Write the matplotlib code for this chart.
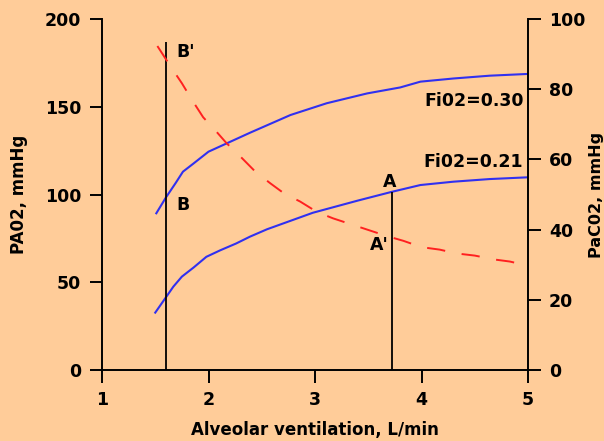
import matplotlib
matplotlib.use("Agg")
import matplotlib.pyplot as plt

# alveolar ventilation (L/min) and PAO2 (mmHg) for the two FiO2 curves
va_030 = [1.51, 1.60, 1.69, 1.76, 1.86, 2.00, 2.17, 2.39, 2.77, 3.11, 3.49, 3.80, 3.99, 4.30, 4.64, 5.00]
pao2_030 = [89.3, 98.3, 106.4, 113.0, 117.7, 124.4, 129.1, 135.2, 145.3, 152.0, 157.6, 161.0,
            164.3, 166.1, 167.7, 168.7]

va_021 = [1.50, 1.60, 1.67, 1.75, 1.86, 1.98, 2.11, 2.26, 2.39, 2.55, 2.98, 3.40, 3.72, 3.99,
          4.30, 4.64, 5.00]
pao2_021 = [32.7, 41.4, 47.5, 53.2, 58.4, 64.5, 68.2, 72.1, 76.0, 80.2, 89.6, 96.5, 101.5,
            105.4, 107.3, 108.8, 109.8]

# PaCO2 (mmHg, right axis)
va_co2 = [1.52, 1.65, 1.75, 1.85, 1.95, 2.06, 2.17, 2.30, 2.44, 2.58, 2.71, 2.86, 3.02,
          3.17, 3.33, 3.50, 3.67, 3.83, 4.00, 4.17, 4.33, 4.50, 4.68, 4.83, 5.00]
paco2 = [92.3, 86.2, 81.7, 76.7, 72.0, 68.4, 64.6, 60.8, 56.5, 53.2, 50.3, 48.0, 45.0,
         43.2, 41.6, 39.9, 38.2, 36.8, 35.0, 34.3, 33.2, 32.6, 31.5, 30.9, 29.7]

# marker lines (x, top in PAO2 units)
line_b = (1.60, 187)
line_a = (3.72, 101.5)

bg = '#FFCC99'
fnt = dict(fontweight='bold', family='DejaVu Sans')

fig = plt.figure(figsize=(6.04, 4.41), dpi=100, facecolor=bg)
ax = fig.add_axes([102 / 604, 1 - 370 / 441, (528 - 102) / 604, (370 - 19) / 441])
ax.set_facecolor(bg)
ax2 = ax.twinx()

ax.plot(va_030, pao2_030, color='#3030f0', lw=1.5)
ax.plot(va_021, pao2_021, color='#3030f0', lw=1.5)
ax2.plot(va_co2, paco2, color='#ff2020', lw=1.4, dashes=(9.4, 8.6))

ax.vlines([line_b[0], line_a[0]], 0, [line_b[1], line_a[1]], color='black', lw=1.3)

ax.set_xlim(1, 5)
ax.set_ylim(0, 200)
ax2.set_ylim(0, 100)
ax.set_xticks([1, 2, 3, 4, 5])
ax.set_yticks([0, 50, 100, 150, 200])
ax2.set_yticks([0, 20, 40, 60, 80, 100])

for a in (ax, ax2):
    a.spines['top'].set_visible(False)
    for s in a.spines.values():
        s.set_linewidth(1.4)
    a.tick_params(direction='out', length=9, width=1.4, labelsize=12.5, pad=6)
    for lab in a.get_xticklabels() + a.get_yticklabels():
        lab.set_fontweight('bold')
ax.spines['right'].set_visible(False)
ax2.spines['left'].set_visible(False)
ax2.spines['bottom'].set_visible(False)

ax.set_xlabel('Alveolar ventilation, L/min', fontsize=12, labelpad=9, **fnt)
ax.set_ylabel('PA02, mmHg', fontsize=12, labelpad=12, **fnt)
ax2.set_ylabel('PaC02, mmHg', fontsize=11.5, labelpad=3, **fnt)

ax.text(1.70, 181, "B'", fontsize=12.5, va='center', **fnt)
ax.text(1.70, 94, 'B', fontsize=12.5, va='center', **fnt)
ax.text(3.70, 107, 'A', fontsize=12.5, ha='center', va='center', **fnt)
ax.text(3.60, 71, "A'", fontsize=12.5, ha='center', va='center', **fnt)
ax.text(4.96, 153.5, 'Fi02=0.30', fontsize=12.5, ha='right', va='center', **fnt)
ax.text(4.95, 118.5, 'Fi02=0.21', fontsize=12.5, ha='right', va='center', **fnt)

fig.savefig('out.png', dpi=100, facecolor=bg)
